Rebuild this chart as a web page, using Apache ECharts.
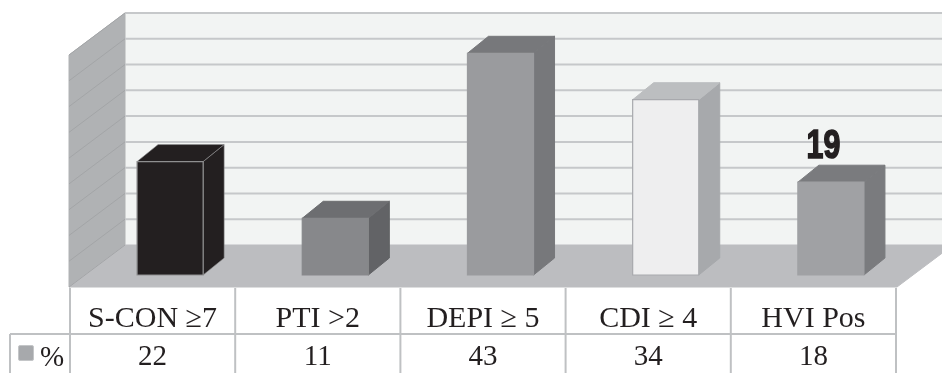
<!DOCTYPE html>
<html>
<head>
<meta charset="utf-8">
<style>html,body{margin:0;padding:0;background:#fff}#chart{width:942px;height:373px}</style>
<script src="https://cdn.jsdelivr.net/npm/echarts@6/dist/echarts.min.js"></script>
</head>
<body>
<div id="chart"></div>
<script>
// Chart data
const categories = ['S-CON \u22657', 'PTI >2', 'DEPI \u2265 5', 'CDI \u2265 4', 'HVI Pos'];
const percentValues = [22, 11, 43, 34, 18];
const barCaptions = ['', '', '', '', '19'];
const seriesName = '%';
const axisMax = 45;
const axisStep = 5;
const gridValues = [0, 5, 10, 15, 20, 25, 30, 35, 40, 45];

// Greys for each column: front, side, top, outline
const barFront = ['#231f20', '#87888b', '#9a9b9e', '#eeeeef', '#a0a1a4'];
const barSide = ['#231f20', '#626366', '#77787b', '#a7a9ac', '#7a7b7e'];
const barTop = ['#231f20', '#6d6e71', '#77787b', '#bcbec0', '#7a7b7e'];
const barEdge = ['#8f8f90', '#87888b', '#9a9b9e', '#a8a9ad', '#a0a1a4'];

// Perspective offsets, measured from the plane the columns stand on
const wallDX = 37, wallDY = -30, frontDX = -19, frontDY = 12;
const barDX = 21, barDY = -17;
const ruleColor = '#c6c8ca', tableLine = '#bfc1c3', ink = '#231f20';
const serif = '"Liberation Serif", serif';

function poly(points, fill, stroke, width) {
  return { type: 'polygon', shape: { points }, style: { fill, stroke: stroke || fill, lineWidth: width == null ? 1 : width } };
}
function line(x1, y1, x2, y2, stroke, lineWidth) {
  return { type: 'line', shape: { x1, y1, x2, y2 }, style: { stroke, lineWidth } };
}

// Back wall, side wall and floor
function renderRoom(params, api) {
  const cs = params.coordSys;
  const y0 = api.coord([0, 0])[1], yTop = api.coord([0, axisMax])[1];
  const xl = cs.x, xr = cs.x + cs.width + 2;
  const bx = xl + wallDX, fx = xl + frontDX;
  return { type: 'group', children: [
    poly([[bx, yTop + wallDY], [942, yTop + wallDY], [942, y0 + wallDY], [bx, y0 + wallDY]], '#f2f4f3'),
    poly([[fx, yTop + frontDY], [bx, yTop + wallDY], [bx, y0 + wallDY], [fx, y0 + frontDY]], '#b0b2b4'),
    poly([[fx, y0 + frontDY], [bx, y0 + wallDY], [xr + wallDX, y0 + wallDY], [xr + frontDX, y0 + frontDY]], '#bcbdc0')
  ] };
}

// One rule across the back wall with its diagonal on the side wall
function renderRule(params, api) {
  const cs = params.coordSys;
  const y = api.coord([0, api.value(1)])[1];
  const bx = cs.x + wallDX, fx = cs.x + frontDX;
  const children = [line(fx, y + frontDY, bx, y + wallDY, '#a3a5a7', 1)];
  if (api.value(1) > 0) children.push(line(bx, y + wallDY, 942, y + wallDY, ruleColor, 2));
  return { type: 'group', children };
}

// A column as three faces
function renderBar(params, api) {
  const i = api.value(0);
  const top = api.coord([i, api.value(1)]);
  const base = api.coord([i, 0]);
  const w = api.size([1, 0])[0] * 0.4;
  const l = top[0] - w / 2 - 0.5, r = top[0] + w / 2 - 0.5, t = top[1], b = base[1];
  const e = barEdge[i];
  const children = [
    poly([[r, t], [r + barDX, t + barDY], [r + barDX, b + barDY], [r, b]], barSide[i], i === 0 ? e : barSide[i], i === 0 ? 0.6 : 1),
    poly([[l, t], [l + barDX, t + barDY], [r + barDX, t + barDY], [r, t]], barTop[i], i === 0 ? e : barTop[i], i === 0 ? 0.6 : 1),
    poly([[l, t], [r, t], [r, b], [l, b]], barFront[i], e, 1.2)
  ];
  if (barCaptions[i]) {
    children.push({
      type: 'text', x: top[0] - 8, y: t - 15, scaleX: 0.74,
      style: { text: barCaptions[i], fill: ink, stroke: ink, lineWidth: 1.6, font: 'bold 41px "Liberation Sans Narrow", sans-serif', align: 'center', verticalAlign: 'bottom' }
    });
  }
  return { type: 'group', children };
}

// Data table beneath the columns
function renderTableCell(params, api) {
  const i = api.value(0);
  const cs = params.coordSys;
  const step = api.size([1, 0])[0];
  const left = cs.x + frontDX + i * step + 1;
  const cx = left + step / 2;
  const children = [
    line(left, 288, left, 373, tableLine, 2),
    { type: 'text', x: cx, y: 319.5, style: { text: categories[i], fill: ink, font: '30px ' + serif, align: 'center', verticalAlign: 'middle' } },
    { type: 'text', x: cx, y: 357.5, style: { text: String(api.value(1)), fill: ink, font: '29px ' + serif, align: 'center', verticalAlign: 'middle' } }
  ];
  if (i === categories.length - 1) children.push(line(left + step, 288, left + step, 373, tableLine, 2));
  return { type: 'group', children };
}

// Row header with the series key
function renderRowHeader() {
  return { type: 'group', children: [
    line(10, 334, 896, 334, tableLine, 2),
    line(10, 334, 10, 373, tableLine, 2),
    { type: 'rect', shape: { x: 18.5, y: 345.5, width: 15, height: 15, r: 1.5 }, style: { fill: '#a7a9ac', stroke: '#c4c6c8', lineWidth: 1 } },
    { type: 'text', x: 40, y: 358.5, style: { text: seriesName, fill: ink, font: '29px ' + serif, align: 'left', verticalAlign: 'middle' } }
  ] };
}

const customBase = { type: 'custom', coordinateSystem: 'cartesian2d', clip: false, silent: true };
const chart = echarts.init(document.getElementById('chart'), null, { renderer: 'canvas' });
chart.setOption({
  animation: false,
  backgroundColor: '#ffffff',
  grid: { left: 88, top: 43, width: 826, height: 232 },
  xAxis: { type: 'category', data: categories, show: false },
  yAxis: { type: 'value', min: 0, max: axisMax, interval: axisStep, show: false },
  series: [
    Object.assign({}, customBase, { name: 'room', data: [[0, axisMax]], renderItem: renderRoom, z: 1 }),
    Object.assign({}, customBase, { name: 'rules', data: gridValues.map(v => [0, v]), renderItem: renderRule, z: 2 }),
    Object.assign({}, customBase, { name: seriesName, data: percentValues.map((v, i) => [i, v]), renderItem: renderBar, z: 3 }),
    Object.assign({}, customBase, { name: 'table', data: percentValues.map((v, i) => [i, v]), renderItem: renderTableCell, z: 4 }),
    Object.assign({}, customBase, { name: 'rowHeader', data: [[0, 0]], renderItem: renderRowHeader, z: 4 })
  ]
});
</script>
</body>
</html>
